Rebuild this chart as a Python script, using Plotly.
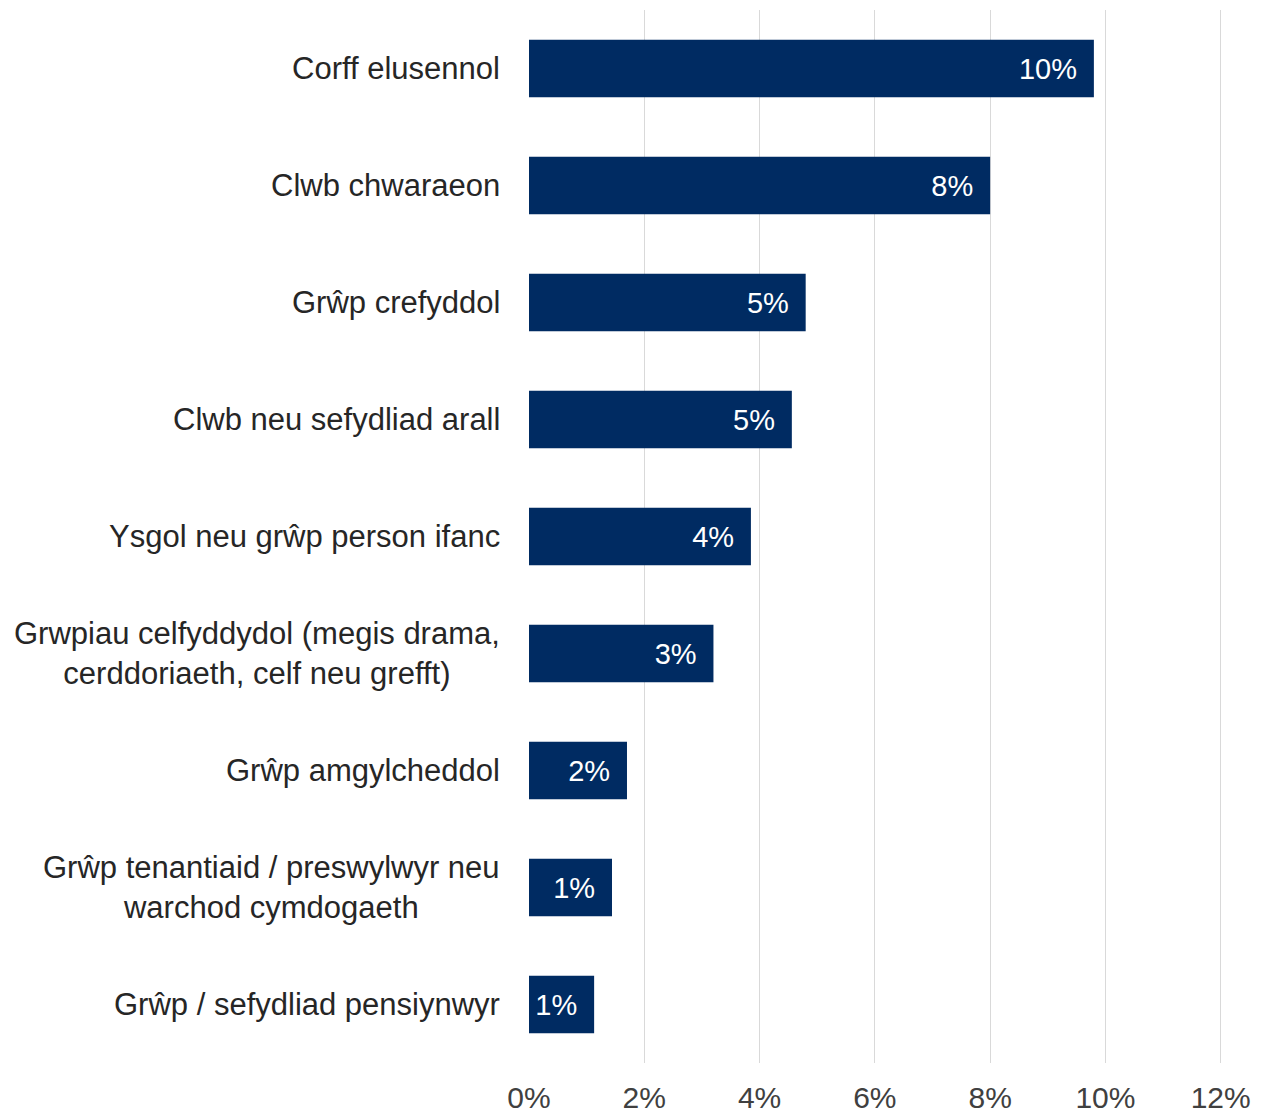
import plotly.graph_objects as go

categories = [
    "Corff elusennol",
    "Clwb chwaraeon",
    "Grŵp crefyddol",
    "Clwb neu sefydliad arall",
    "Ysgol neu grŵp person ifanc",
    "Grwpiau celfyddydol (megis drama,<br>cerddoriaeth, celf neu grefft)",
    "Grŵp amgylcheddol",
    "Grŵp tenantiaid / preswylwyr neu<br>warchod cymdogaeth",
    "Grŵp / sefydliad pensiynwyr",
]
values = [0.098, 0.080, 0.048, 0.0456, 0.0385, 0.032, 0.017, 0.0144, 0.0113]
x_ticks = [0, 0.02, 0.04, 0.06, 0.08, 0.10, 0.12]

BAR = "#002B62"
FONT = "Liberation Sans, Arial, sans-serif"

fig = go.Figure()
fig.add_trace(go.Bar(
    x=values,
    y=categories,
    orientation="h",
    marker=dict(color=BAR, line=dict(width=0)),
    width=0.49,
    texttemplate="%{x:.0%}\u00a0\u2009",
    textposition="inside",
    insidetextanchor="end",
    textangle=0,
    textfont=dict(color="white", size=29, family=FONT),
    hoverinfo="skip",
))

for c in categories:
    fig.add_annotation(
        x=0, xref="paper", y=c, yref="y",
        text=c, showarrow=False,
        xanchor="right", align="center", yanchor="middle",
        xshift=-27,
        font=dict(size=31, color="#262626", family=FONT),
    )

fig.update_layout(
    width=1258, height=1105,
    margin=dict(l=521, r=43, t=2, b=50),
    paper_bgcolor="white", plot_bgcolor="white",
    showlegend=False,
    font=dict(family=FONT),
    xaxis=dict(
        range=[0, 0.1204],
        tickvals=x_ticks,
        tickformat=".0%",
        showgrid=True, gridcolor="#D9D9D9", gridwidth=1,
        zeroline=False, showline=False,
        ticks="outside", ticklen=8, tickcolor="rgba(0,0,0,0)",
        tickfont=dict(size=30, color="#404040", family=FONT),
        automargin=False,
    ),
    yaxis=dict(
        categoryorder="array",
        categoryarray=categories[::-1],
        showticklabels=False,
        showgrid=False, zeroline=False, showline=False,
        automargin=False,
    ),
)

fig.write_html("out.html")
